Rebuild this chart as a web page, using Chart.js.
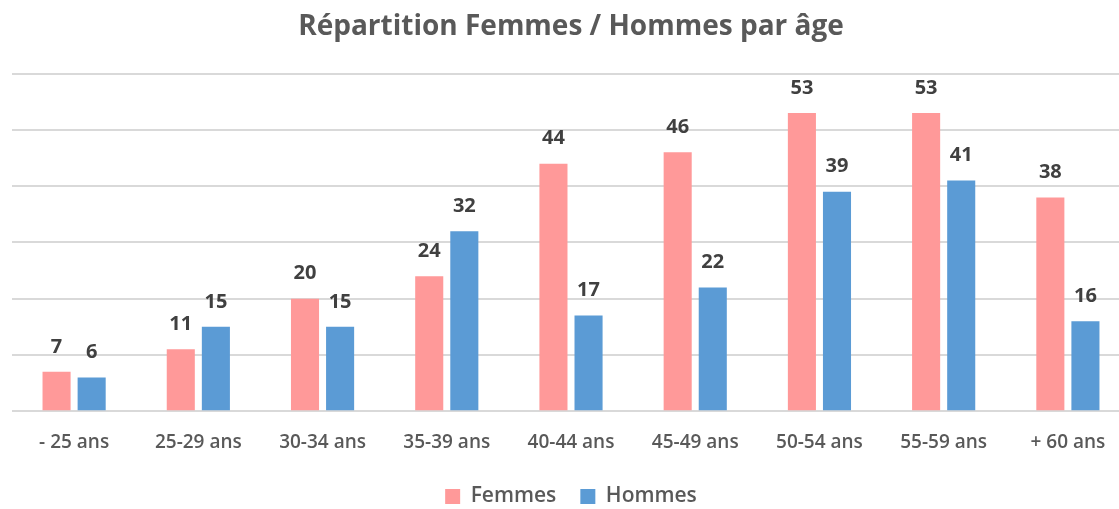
<!doctype html>
<html>
<head>
  <title>Répartition Femmes / Hommes par âge</title>
  <script src="https://cdn.jsdelivr.net/npm/chart.js@4.4.1/dist/chart.umd.min.js"></script>
  <style>
    html, body { margin: 0; padding: 0; background: #fff; overflow: hidden; }
    .chart { position: absolute; left: 0; top: 0; width: 1130px; height: 509px; }
  </style>
</head>
<body>
  <div class="chart">
    <canvas id="myChart"></canvas>
  </div>
  <script>
    var labels = ['- 25 ans', '25-29 ans', '30-34 ans', '35-39 ans', '40-44 ans', '45-49 ans', '50-54 ans', '55-59 ans', '+ 60 ans'];
    var femmes = [7, 11, 20, 24, 44, 46, 53, 53, 38];
    var hommes = [6, 15, 15, 32, 17, 22, 39, 41, 16];

    var textColor = '#595959';
    var fontFamily = "'Open Sans', 'Noto Sans', sans-serif";

    // value labels above each bar
    var valueLabels = {
      id: 'valueLabels',
      afterDatasetsDraw: function(chart) {
        var ctx = chart.ctx;
        ctx.save();
        ctx.font = 'bold 20px ' + fontFamily;
        ctx.fillStyle = '#404040';
        ctx.textAlign = 'center';
        ctx.textBaseline = 'middle';
        chart.data.datasets.forEach(function(dataset, i) {
          chart.getDatasetMeta(i).data.forEach(function(bar, j) {
            ctx.fillText(dataset.data[j], bar.x, bar.y - 25);
          });
        });
        ctx.restore();
      }
    };

    // tighten the legend box so the items keep a wide horizontal gap
    var legendFit = {
      id: 'legendFit',
      beforeInit: function(chart) {
        var origFit = chart.legend.fit;
        chart.legend.fit = function() {
          origFit.bind(chart.legend)();
          this.height -= 8;
        };
      }
    };

    var config = {
      type: 'bar',
      data: {
        labels: labels,
        datasets: [{
          label: 'Femmes',
          data: femmes,
          backgroundColor: '#FF9999'
        }, {
          label: 'Hommes',
          data: hommes,
          backgroundColor: '#5B9BD5'
        }]
      },
      options: {
        responsive: true,
        maintainAspectRatio: false,
        animation: false,
        datasets: {
          bar: {
            categoryPercentage: 0.565,
            barPercentage: 0.8
          }
        },
        layout: {
          padding: { left: 12, right: 0, top: 0, bottom: 0 }
        },
        scales: {
          x: {
            grid: { display: false },
            border: { display: false },
            ticks: {
              color: textColor,
              font: { family: fontFamily, size: 19, weight: '600' },
              padding: 12
            },
            afterFit: function(scale) {
              scale.height -= 4;
            }
          },
          y: {
            min: 0,
            max: 60,
            ticks: { display: false, stepSize: 10 },
            grid: { color: '#D9D9D9', lineWidth: 2, drawTicks: false },
            border: { display: false }
          }
        },
        plugins: {
          title: {
            display: true,
            text: 'Répartition Femmes / Hommes par âge',
            color: textColor,
            font: { family: fontFamily, size: 28, weight: 'bold' },
            padding: { top: 10, bottom: 30 }
          },
          legend: {
            position: 'bottom',
            labels: {
              color: textColor,
              font: { family: fontFamily, size: 21, weight: '600' },
              boxWidth: 15,
              boxHeight: 15,
              padding: 24
            }
          },
          tooltip: { enabled: false }
        }
      },
      plugins: [valueLabels, legendFit]
    };

    var ctx = document.getElementById('myChart').getContext('2d');
    window.myChart = new Chart(ctx, config);
  </script>
</body>
</html>
